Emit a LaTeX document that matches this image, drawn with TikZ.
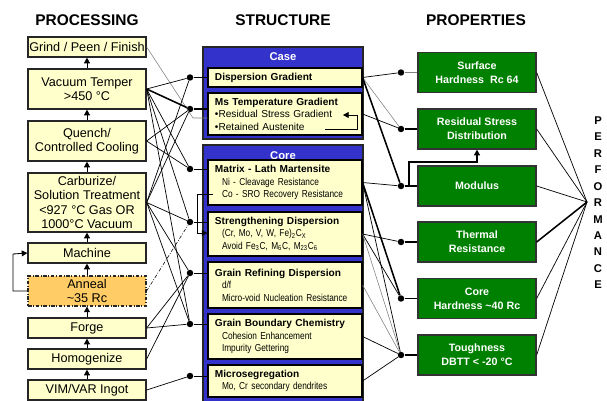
\documentclass[tikz,border=0pt]{standalone}
\usepackage{fontspec}
\setmainfont{Liberation Sans}
\newfontfamily\narrowsf[FakeStretch=0.82]{Liberation Sans}
\usetikzlibrary{arrows.meta}

\definecolor{procyellow}{RGB}{255,255,204}
\definecolor{annealorange}{RGB}{255,204,102}
\definecolor{caseblue}{RGB}{51,51,204}
\definecolor{propgreen}{RGB}{0,128,0}

\tikzset{
  title/.style={font=\bfseries\fontsize{11}{13}\selectfont},
  procbox/.style={draw=black!85, line width=0.9pt, fill=procyellow,
    minimum width=2.95cm, inner sep=0pt, align=center,
    font=\fontsize{9}{10.2}\selectfont},
  blockbox/.style={draw=black!85, line width=0.9pt, fill=caseblue,
    minimum width=4cm, inner sep=0pt},
  structbox/.style={draw=black, line width=0.8pt, fill=procyellow,
    minimum width=3.85cm, inner sep=0pt, text width=3.5cm, align=left,
    font=\fontsize{7.2}{8.9}\selectfont},
  propbox/.style={draw=black!80, line width=0.9pt, fill=propgreen,
    text=white, minimum width=2.95cm, minimum height=1cm, inner sep=0pt,
    align=center, font=\bfseries\fontsize{7.6}{10}\selectfont},
  dot/.style={circle, fill=black, inner sep=0pt, minimum size=4.6pt},
  up/.style={-{Triangle[width=4.2pt,length=4pt]}, line width=0.6pt},
  link/.style={line width=0.5pt},
  stub/.style={line width=0.8pt},
  heavy/.style={line width=1.1pt},
  faint/.style={line width=0.4pt, gray},
  dashdot/.style={line width=0.5pt, dash pattern=on 2.5pt off 1.2pt on 0.6pt off 1.2pt},
}
\newcommand{\subline}[1]{\hspace*{5pt}{\narrowsf #1}}

\begin{document}
\begin{tikzpicture}[x=0.025cm, y=-0.025cm]
  \useasboundingbox (0,0) rectangle (607,401);

  % headings
  \node[title] (procTitle) at (87,20) {PROCESSING};
  \node[title] (structTitle) at (283,20) {STRUCTURE};
  \node[title] (propTitle) at (476,20) {PROPERTIES};

  % processing column
  \node[procbox, minimum height=0.5cm] (grind) at (87,47) {Grind / Peen / Finish};
  \node[procbox, minimum height=1cm] (temper) at (87,89) {Vacuum Temper\\>450 °C};
  \node[procbox, minimum height=1cm] (quench) at (87,141) {Quench/\\Controlled Cooling};
  \node[procbox, minimum height=1.475cm] (carb) at (87,202.5)
    {Carburize/\\Solution Treatment\\<927 °C Gas OR\\1000°C Vacuum};
  \node[procbox, minimum height=0.5cm] (machine) at (87,253) {Machine};
  \node[procbox, minimum height=0.75cm, fill=annealorange, dashdot, line width=0.8pt] (anneal) at (87,291) {Anneal\\\textasciitilde35 Rc};
  \node[procbox, minimum height=0.5cm] (forge) at (87,328) {Forge};
  \node[procbox, minimum height=0.5cm] (homog) at (87,359) {Homogenize};
  \node[procbox, minimum height=0.5cm] (ingot) at (87,390) {VIM/VAR Ingot};

  \draw[up] (temper) -- (grind);
  \draw[up] (quench) -- (temper);
  \draw[up] (carb) -- (quench);
  \draw[up] (machine) -- (carb);
  \draw[up] (anneal) -- (machine);
  \draw[up] (forge) -- (anneal);
  \draw[up] (homog) -- (forge);
  \draw[up] (ingot) -- (homog);
  \draw[up] (anneal.west) -- (13,291) -- (13,254) -- (machine.west);

  % structure column
  \node[blockbox, minimum height=2.3cm] (case) at (283,93) {};
  \node[blockbox, minimum height=6.5cm] (core) at (283,275) {};
  \node[text=white, font=\bfseries\fontsize{8}{9}\selectfont] (caseLabel) at (283,57) {Case};
  \node[text=white, font=\bfseries\fontsize{8}{9}\selectfont] (coreLabel) at (283,156) {Core};

  \node[structbox, minimum height=0.475cm] (disp) at (285,77.5) {\textbf{Dispersion Gradient}};
  \node[structbox, minimum height=1.05cm] (ms) at (285,114)
    {\textbf{Ms Temperature Gradient}\\•Residual Stress Gradient\\•Retained Austenite};
  \node[structbox, minimum height=1.125cm] (matrix) at (285,182.5)
    {\textbf{Matrix - Lath Martensite}\\\subline{Ni - Cleavage Resistance}\\\subline{Co - SRO Recovery Resistance}};
  \node[structbox, minimum height=1.1cm] (streng) at (285,234)
    {\textbf{Strengthening Dispersion}\\\subline{(Cr, Mo, V, W, Fe)\textsubscript{2}C\textsubscript{X}}\\\subline{Avoid Fe\textsubscript{3}C, M\textsubscript{6}C, M\textsubscript{23}C\textsubscript{6}}};
  \node[structbox, minimum height=1.15cm] (refine) at (285,285)
    {\textbf{Grain Refining Dispersion}\\\subline{d/f}\\\subline{Micro-void Nucleation Resistance}};
  \node[structbox, minimum height=1.125cm] (gbchem) at (285,336.5)
    {\textbf{Grain Boundary Chemistry}\\\subline{Cohesion Enhancement}\\\subline{Impurity Gettering}};
  \node[structbox, minimum height=0.8cm] (microseg) at (285,381)
    {\textbf{Microsegregation}\\\subline{Mo, Cr secondary dendrites}};

  \draw[up, line width=0.5pt] (325,129) -- (357,129) -- (357,115) -- (343,115);
  \draw[up, line width=0.5pt] (213,194) -- (197,194) -- (197,233) -- (streng.west |- 0,233);

  % structure dots
  \node[dot] (dispDot) at (190,77.5) {};
  \node[dot] (msDot) at (190,109) {};
  \node[dot] (matrixDot) at (190,169) {};
  \node[dot] (strengDot) at (190,222) {};
  \node[dot] (refineDot) at (190,273) {};
  \node[dot] (gbDot) at (190,324) {};
  \node[dot] (microDot) at (190,376) {};

  \draw[link] (dispDot) -- (disp.west);
  \draw[heavy] (msDot) -- (ms.west |- msDot);
  \draw[link] (matrixDot) -- (matrix.west |- matrixDot);
  \draw[link] (strengDot) -- (streng.west |- strengDot);
  \draw[link] (refineDot) -- (refine.west |- refineDot);
  \draw[link] (gbDot) -- (gbchem.west |- gbDot);
  \draw[link] (microDot) -- (microseg.west |- microDot);

  % processing -> structure
  \draw[faint] (grind.east) -- (193,118) -- (ms.west |- 0,118);
  \draw[link] (temper.east) -- (dispDot);
  \draw[heavy] (temper.east) -- (msDot);
  \draw[link] (temper.east) -- (matrixDot);
  \draw[link] (temper.east) -- (strengDot);
  \draw[link] (temper.east) -- (gbDot);
  \draw[link] (quench.east) -- (msDot);
  \draw[link] (quench.east) -- (matrixDot);
  \draw[link] (carb.east) -- (dispDot);
  \draw[link] (carb.east) -- (msDot);
  \draw[link] (carb.east) -- (strengDot);
  \draw[link] (carb.east) -- (refineDot);
  \draw[link] (carb.east) -- (gbDot);
  \draw[dashdot, line width=0.4pt] (anneal.east) -- (strengDot);
  \draw[link] (forge.east) -- (refineDot);
  \draw[link] (forge.east) -- (gbDot);
  \draw[link] (homog.east) -- (refineDot);
  \draw[link] (ingot.east) -- (microDot);

  % properties column
  \node[propbox] (surf) at (477,72.5) {Surface\\Hardness~~Rc 64};
  \node[propbox] (resid) at (477,129) {Residual Stress\\Distribution};
  \node[propbox] (modul) at (477,186) {Modulus};
  \node[propbox] (therm) at (477,242) {Thermal\\Resistance};
  \node[propbox] (corehard) at (477,298.5) {Core\\Hardness \textasciitilde40 Rc};
  \node[propbox] (tough) at (477,355) {Toughness\\DBTT < -20 °C};

  \node[dot] (surfDot) at (401,72.5) {};
  \node[dot] (residDot) at (401,129) {};
  \node[dot] (modulDot) at (401,186) {};
  \node[dot] (thermDot) at (401,242) {};
  \node[dot] (coreDot) at (401,298.5) {};
  \node[dot] (toughDot) at (401,355) {};

  \draw[faint] (surfDot) -- (surf.west);
  \draw[stub] (residDot) -- (resid.west);
  \draw[stub] (modulDot) -- (modul.west);
  \draw[stub] (thermDot) -- (therm.west);
  \draw[stub] (coreDot) -- (corehard.west);
  \draw[stub] (toughDot) -- (tough.west);
  \draw[up, line width=0.8pt] (modulDot) -- (409,186) -- (409,162) -- (resid.south |- 0,162) -- (resid.south);

  % structure -> properties
  \draw[link] (disp.east) -- (surfDot);
  \draw[faint] (disp.east) -- (residDot);
  \draw[heavy] (disp.east) -- (modulDot);
  \draw[link] (ms.east) -- (residDot);
  \draw[link] (matrix.east) -- (modulDot);
  \draw[heavy] (matrix.east) -- (coreDot);
  \draw[link] (matrix.east) -- (toughDot);
  \draw[link] (streng.east) -- (thermDot);
  \draw[link] (streng.east) -- (coreDot);
  \draw[faint] (streng.east) -- (toughDot);
  \draw[faint] (refine.east) -- (toughDot);
  \draw[link] (gbchem.east) -- (toughDot);
  \draw[link] (microseg.east) -- (toughDot);

  % properties -> performance
  \coordinate (perf) at (587,202);
  \draw[link] (surf.east) -- (perf);
  \draw[link] (resid.east) -- (perf);
  \draw[link] (modul.east) -- (perf);
  \draw[heavy] (therm.east) -- (perf);
  \draw[link] (corehard.east) -- (perf);
  \draw[link] (tough.east) -- (perf);
  \node[font=\bfseries\fontsize{8}{11.7}\selectfont, align=center] (perfText) at (598,202.75)
    {P\\E\\R\\F\\O\\R\\M\\A\\N\\C\\E};
\end{tikzpicture}
\end{document}
